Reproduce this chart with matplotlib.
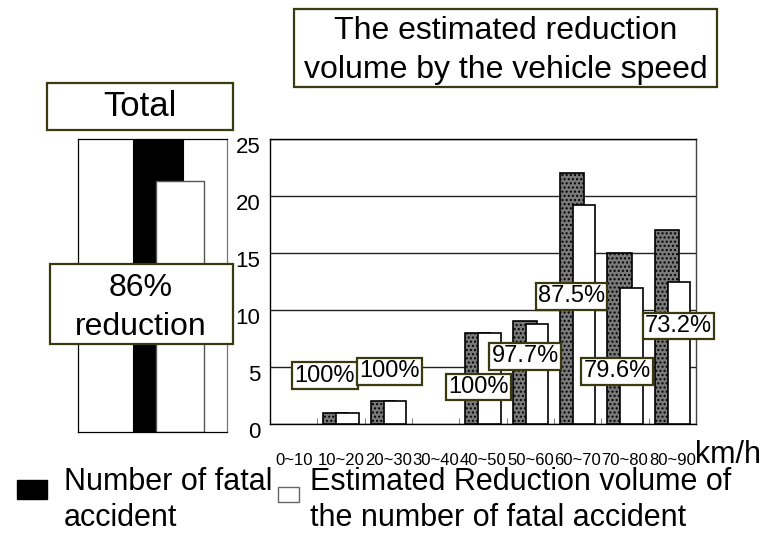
import matplotlib
matplotlib.use("Agg")
import matplotlib.pyplot as plt
import matplotlib.patches as patches
import matplotlib.transforms as mtransforms
from matplotlib.ticker import FixedLocator

plt.rcParams['font.family'] = ['Liberation Sans', 'DejaVu Sans']
plt.rcParams['hatch.color'] = '#555555'
plt.rcParams['hatch.linewidth'] = 1.0

# data
speeds = ['0~10', '10~20', '20~30', '30~40', '40~50', '50~60', '60~70', '70~80', '80~90']
fatal = [0, 1, 2, 0, 8, 9, 22, 15, 17]
reduced = [0, 1, 2, 0, 8, 8.79, 19.25, 11.94, 12.44]
rates = ['100%', '100%', '100%', '97.7%', '87.5%', '79.6%', '73.2%']
total_fatal = 74
total_reduced = 63.42

# where the rate boxes sit (data coords of the main axes)
rate_x = [0.66, 2.02, 3.91, 4.89, 5.87, 6.84, 8.13]
rate_y = [4.23, 4.63, 3.25, 5.94, 11.21, 4.63, 8.6]

W, H = 774, 533
fig = plt.figure(figsize=(W / 100, H / 100), dpi=100)
box_ec = '#3a3a10'


def fx(px):
    return px / W


def fy(py):
    return 1 - py / H


def fig_box(x0, y0, x1, y1):
    fig.patches.append(patches.Rectangle((fx(x0), fy(y1)), fx(x1 - x0), (y1 - y0) / H,
                                         transform=fig.transFigure, fc='white',
                                         ec=box_ec, lw=1.6, zorder=5))


# ---- total panel ----
axt = fig.add_axes([fx(78), fy(432), fx(149), 293 / H])
axt.bar([0], [total_fatal], width=0.336, color='black', edgecolor='black', lw=0.8)
axt.bar([0.148], [total_reduced], width=0.322, color='white', edgecolor='#555555', lw=1.0)
axt.set_xlim(-0.537, 0.463)
axt.set_ylim(0, total_fatal)
axt.set_xticks([])
axt.set_yticks([])
for s in axt.spines.values():
    s.set_linewidth(0.9)
axt.spines['right'].set_color('#777777')

fig_box(47, 83, 233, 130)
fig.text(fx(140), fy(106.5), 'Total', ha='center', va='center', fontsize=25, zorder=6)
fig_box(50, 264, 233, 344)
fig.text(fx(141), fy(296), '86%', ha='center', va='baseline', fontsize=23, zorder=6)
fig.text(fx(141), fy(335), 'reduction', ha='center', va='baseline', fontsize=23, zorder=6)

# ---- main chart ----
ax = fig.add_axes([fx(270), fy(424), fx(426), 285 / H])
x = list(range(len(speeds)))
b1 = ax.bar([i - 0.117 for i in x], fatal, width=0.513, color='#7a7a7a', hatch='....',
            edgecolor='black', lw=1.2, zorder=2)
b2 = ax.bar([i + 0.137 for i in x], reduced, width=0.475, color='white',
            edgecolor='black', lw=1.2, zorder=3)
# zero-height bars leave no mark in the original
for bars, vals in ((b1, fatal), (b2, reduced)):
    for p, v in zip(bars.patches, vals):
        if v == 0:
            p.set_visible(False)

ax.set_xlim(-0.5, len(speeds) - 0.5)
ax.set_ylim(0, 25)
ax.set_yticks([0, 5, 10, 15, 20, 25])
ax.grid(axis='y', color='#222222', lw=1.0, zorder=0)
ax.set_axisbelow(True)
for s in ax.spines.values():
    s.set_linewidth(1.0)
    s.set_color('black')
ax.spines['right'].set_color('#444444')

ax.set_xticks(x)
ax.set_xticklabels(speeds, fontsize=12)
ax.xaxis.set_minor_locator(FixedLocator([i + 0.5 for i in range(len(speeds) - 1)]))
ax.tick_params(axis='x', which='major', length=0, pad=21)
ax.tick_params(axis='x', which='minor', length=4, direction='in', color='#666666')
ax.tick_params(axis='y', length=0, pad=7)
shift = mtransforms.ScaledTranslation(0, -6 / 100, fig.dpi_scale_trans)
for lab in ax.get_yticklabels():
    lab.set_fontsize(16)
    lab.set_transform(lab.get_transform() + shift)

for xi, yi, t in zip(rate_x, rate_y, rates):
    ax.text(xi, yi, t, ha='center', va='center', fontsize=17, zorder=6,
            bbox=dict(boxstyle='square,pad=0.1', fc='white', ec=box_ec, lw=1.6))

fig.text(fx(695), fy(463), 'km/h', ha='left', va='baseline', fontsize=22)

# title box
fig_box(294, 9, 717, 87)
fig.text(fx(505.5), fy(39), 'The estimated reduction', ha='center', va='baseline', fontsize=23, zorder=6)
fig.text(fx(505.5), fy(78), 'volume by the vehicle speed', ha='center', va='baseline', fontsize=23, zorder=6)

# legend
fig.patches.append(patches.Rectangle((fx(17), fy(499)), fx(30), 19 / H, transform=fig.transFigure,
                                     fc='black', ec='black'))
fig.patches.append(patches.Rectangle((fx(278), fy(502)), fx(21), 15 / H, transform=fig.transFigure,
                                     fc='white', ec='#666666', lw=1.0))
fig.text(fx(64), fy(490), 'Number of fatal', ha='left', va='baseline', fontsize=22)
fig.text(fx(64), fy(526), 'accident', ha='left', va='baseline', fontsize=22)
fig.text(fx(310), fy(490), 'Estimated Reduction volume of', ha='left', va='baseline', fontsize=22)
fig.text(fx(310), fy(526), 'the number of fatal accident', ha='left', va='baseline', fontsize=22)

fig.savefig('out.png', dpi=100)
